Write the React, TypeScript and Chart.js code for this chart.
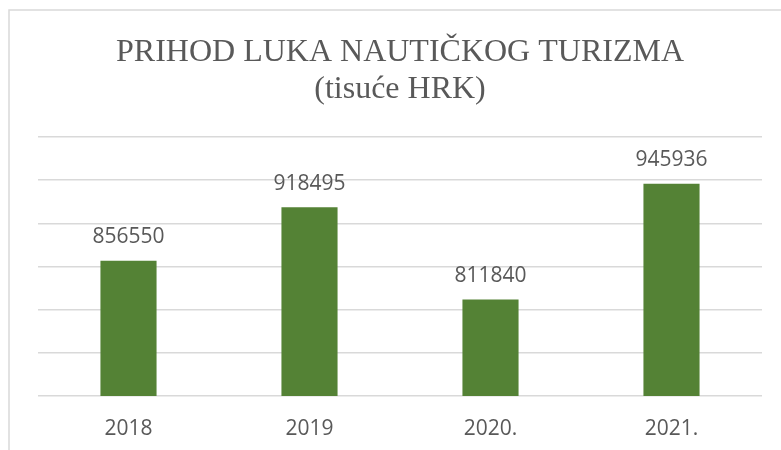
import React, { useEffect, useRef } from "react";
import { Chart, registerables } from "chart.js";

Chart.register(...registerables);

const categories = ["2018", "2019", "2020.", "2021."];
const revenue = [856550, 918495, 811840, 945936];
const titleLines = ["PRIHOD LUKA NAUTIČKOG TURIZMA", "(tisuće HRK)"];
const yMin = 700000;
const yMax = 1000000;
const yStep = 50000;

const TEXT = "#595959";
const GRID = "#d9d9d9";
const BAR = "#548235";

const framePlugin = {
  id: "frame",
  beforeDraw(chart: any) {
    const ctx = chart.ctx;
    ctx.save();
    ctx.fillStyle = "#ffffff";
    ctx.fillRect(0, 0, chart.width, chart.height);
    ctx.strokeStyle = GRID;
    ctx.lineWidth = 1.5;
    ctx.strokeRect(9, 10, 900, 600);
    ctx.restore();
  },
};

const valueLabelPlugin = {
  id: "valueLabels",
  afterDatasetsDraw(chart: any) {
    const ctx = chart.ctx;
    const meta = chart.getDatasetMeta(0);
    ctx.save();
    ctx.font = '21px "Open Sans"';
    ctx.fillStyle = TEXT;
    ctx.textAlign = "center";
    ctx.textBaseline = "alphabetic";
    meta.data.forEach((bar: any, i: number) => {
      const v = chart.data.datasets[0].data[i];
      ctx.fillText(String(v), bar.x, bar.y - 17.5);
    });
    ctx.restore();
  },
};

export default function App() {
  const ref = useRef<HTMLCanvasElement | null>(null);
  useEffect(() => {
    if (!ref.current) return;
    const chart = new Chart(ref.current, {
      type: "bar",
      data: {
        labels: categories,
        datasets: [
          {
            data: revenue,
            backgroundColor: BAR,
            borderWidth: 0,
            barPercentage: 0.31,
            categoryPercentage: 1,
          },
        ],
      },
      options: {
        responsive: false,
        animation: false,
        layout: { padding: { left: 38, right: 19, top: 0, bottom: 0 } },
        plugins: {
          legend: { display: false },
          tooltip: { enabled: false },
          title: {
            display: true,
            text: titleLines,
            color: TEXT,
            font: { family: '"Liberation Serif"', size: 32, weight: "normal", lineHeight: 1.15 },
            padding: { top: 34, bottom: 29.4 },
          },
        },
        scales: {
          x: {
            grid: { display: false, drawTicks: false },
            border: { display: false },
            ticks: {
              color: TEXT,
              font: { family: '"Open Sans"', size: 21, lineHeight: 1.2 },
              padding: 20,
            },
            afterFit(scale: any) {
              scale.height = 54;
            },
          },
          y: {
            min: yMin,
            max: yMax,
            ticks: { display: false, stepSize: yStep },
            grid: { color: GRID, lineWidth: 1.5, drawTicks: false },
            border: { display: false },
          },
        },
      },
      plugins: [framePlugin, valueLabelPlugin],
    });
    return () => chart.destroy();
  }, []);
  return (
    <div style={{ position: "fixed", left: 0, top: 0, width: 781, height: 450, background: "#fff" }}>
      <canvas ref={ref} width={781} height={450} style={{ width: 781, height: 450, display: "block" }} />
    </div>
  );
}
